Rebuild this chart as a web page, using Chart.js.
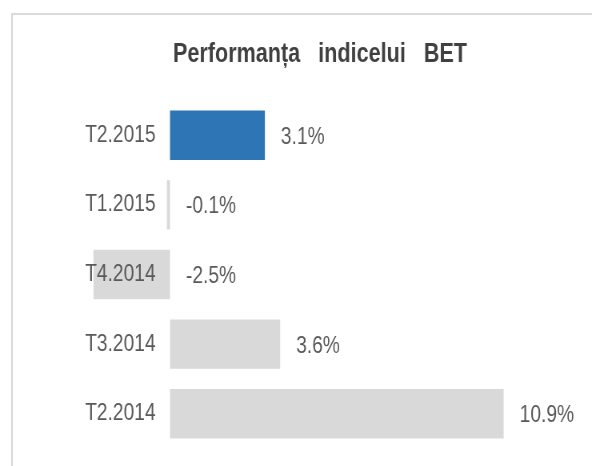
<!DOCTYPE html>
<html>
<head>
<meta charset="utf-8">
<script src="https://cdn.jsdelivr.net/npm/chart.js@4"></script>
<style>
  html, body { margin: 0; padding: 0; background: #fff; }
  #wrap { position: relative; width: 592px; height: 466px; overflow: hidden; }
  #frame { position: absolute; left: 11px; top: 13px; width: 700px; height: 600px;
           border-top: 2px solid #dadada; border-left: 2px solid #dadada; }
  /* no narrow font installed: draw wide and squeeze horizontally */
  canvas { position: absolute; left: 0; top: 0; transform: scaleX(0.8); transform-origin: 0 0; }
</style>
</head>
<body>
<div id="wrap">
  <div id="frame"></div>
  <canvas id="betChart" width="740" height="466"></canvas>
</div>
<script>
const quarters = ['T2.2015', 'T1.2015', 'T4.2014', 'T3.2014', 'T2.2014'];
const performance = [3.1, -0.1, -2.5, 3.6, 10.9];
const barColors = ['#2e75b6', '#d9d9d9', '#d9d9d9', '#d9d9d9', '#d9d9d9'];

const FONT = "'Liberation Sans', Arial, sans-serif";

// percentage labels after each bar (negatives sit right of the zero line)
const valueLabels = {
    id: 'valueLabels',
    afterDatasetsDraw(chart) {
        const ctx = chart.ctx;
        const x = chart.scales.x;
        const meta = chart.getDatasetMeta(0);
        ctx.save();
        ctx.font = '24px ' + FONT;
        ctx.fillStyle = '#595959';
        ctx.textAlign = 'left';
        ctx.textBaseline = 'middle';
        meta.data.forEach(function (bar, i) {
            const v = performance[i];
            const px = x.getPixelForValue(Math.max(v, 0)) + 20;
            ctx.fillText(v.toFixed(1) + '%', px, bar.y + 2);
        });
        ctx.restore();
    }
};

const ctx = document.getElementById('betChart');

new Chart(ctx, {
    type: 'bar',
    data: {
        labels: quarters,
        datasets: [{
            label: 'BET',
            data: performance,
            backgroundColor: barColors,
            borderWidth: 0,
            categoryPercentage: 1,
            barPercentage: 0.71
        }]
    },
    options: {
        indexAxis: 'y',
        responsive: false,
        animation: false,
        layout: {
            padding: { left: 113, right: 53, top: 0, bottom: 14 }
        },
        scales: {
            x: {
                min: -2.6,
                max: 12.4,
                afterFit: function (scale) { scale.height = 0; },
                ticks: { display: false, stepSize: 1 },
                border: { display: false },
                grid: {
                    drawTicks: false,
                    lineWidth: 2,
                    color: function (c) { return c.tick && c.tick.value === 0 ? '#d9d9d9' : 'rgba(0,0,0,0)'; }
                }
            },
            y: {
                position: { x: -0.47 },
                afterFit: function (scale) { scale.width = 0; },
                grid: { display: false, drawTicks: false },
                border: { display: false },
                ticks: {
                    z: 1,
                    color: '#595959',
                    font: { family: FONT, size: 24 }
                }
            }
        },
        plugins: {
            legend: { display: false },
            tooltip: { enabled: false },
            title: {
                display: true,
                text: 'Performanța   indicelui   BET',
                color: '#404040',
                font: { family: FONT, size: 27, weight: 'bold' },
                padding: { top: 38, bottom: 30 }
            }
        }
    },
    plugins: [valueLabels]
});
</script>
</body>
</html>
